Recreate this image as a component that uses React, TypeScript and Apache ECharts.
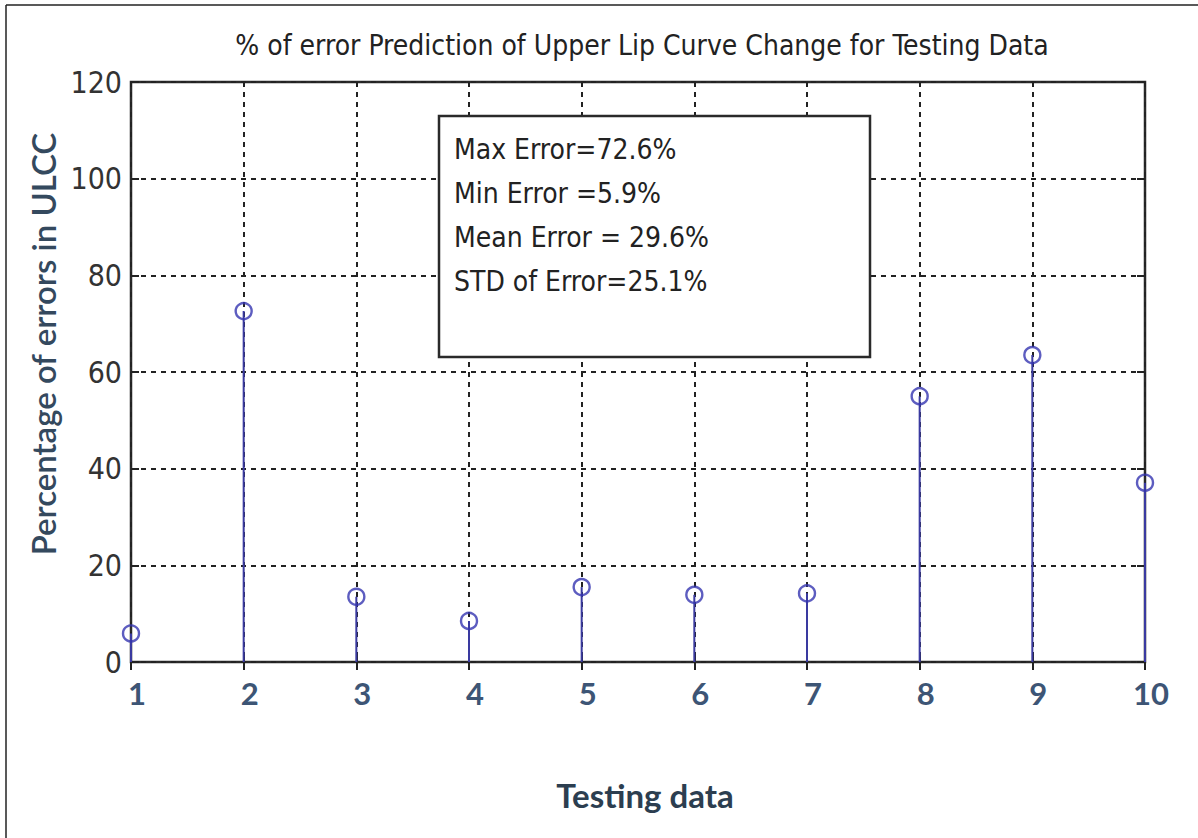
import React, { useEffect, useRef } from "react";
import * as echarts from "echarts";

const testingData = [1, 2, 3, 4, 5, 6, 7, 8, 9, 10];
const errorPercent = [5.9, 72.6, 13.5, 8.5, 15.5, 13.9, 14.2, 55.0, 63.5, 37.1];
const yTicks = [0, 20, 40, 60, 80, 100, 120];
const statLines = [
  "Max Error=72.6%",
  "Min Error =5.9%",
  "Mean Error = 29.6%",
  "STD of Error=25.1%",
];
const chartTitle = "% of error Prediction of Upper Lip Curve Change for Testing Data";
const xName = "Testing data";
const yName = "Percentage of errors in ULCC";

const NARROW = "'Liberation Sans Narrow', 'DejaVu Sans Condensed', sans-serif";
const CAL = "Lato, 'Open Sans', sans-serif";

export default function App() {
  const ref = useRef<HTMLDivElement>(null);
  useEffect(() => {
    if (!ref.current) return;
    const chart = echarts.init(ref.current, undefined, { renderer: "svg" });
    const points = testingData.map((x, i) => [x, errorPercent[i]]);
    const stemColor = "#3a3aa0";
    const option: any = {
      animation: false,
      backgroundColor: "#ffffff",
      title: {
        text: chartTitle,
        left: 637,
        textAlign: "center",
        top: 26,
        textStyle: { fontFamily: NARROW, fontSize: 28, fontWeight: "normal", color: "#222" },
      },
      grid: {
        left: 131,
        right: 53,
        top: 82,
        bottom: 176,
        show: true,
        borderColor: "#2a2a2a",
        borderWidth: 2.5,
        backgroundColor: "transparent",
      },
      xAxis: [
        {
          type: "value",
          min: 1,
          max: 10,
          interval: 1,
          axisLine: { show: false },
          axisTick: { show: true, inside: true, length: 8, lineStyle: { color: "#222", width: 2 } },
          splitLine: { show: true, lineStyle: { color: "#222", type: [5, 5], width: 2 } },
          axisLabel: {
            margin: 15,
            padding: [0, 0, 0, 12],
            fontFamily: CAL,
            fontWeight: "bold",
            fontSize: 31,
            color: "#3d5575",
          },
        },
        {
          type: "value",
          position: "top",
          min: 1,
          max: 10,
          interval: 1,
          axisLine: { show: false },
          axisTick: { show: true, inside: true, length: 8, lineStyle: { color: "#222", width: 2 } },
          splitLine: { show: false },
          axisLabel: { show: false },
        },
      ],
      yAxis: [
        {
          type: "value",
          min: 0,
          max: 120,
          interval: 20,
          axisLine: { show: false },
          axisTick: { show: true, inside: true, length: 8, lineStyle: { color: "#222", width: 2 } },
          splitLine: { show: true, lineStyle: { color: "#222", type: [5, 5], width: 2 } },
          axisLabel: {
            margin: 9,
            fontFamily: NARROW,
            fontSize: 30,
            color: "#333",
            formatter: (v: number) => (yTicks.includes(v) ? String(v) : ""),
          },
        },
        {
          type: "value",
          position: "right",
          min: 0,
          max: 120,
          interval: 20,
          axisLine: { show: false },
          axisTick: { show: true, inside: true, length: 8, lineStyle: { color: "#222", width: 2 } },
          splitLine: { show: false },
          axisLabel: { show: false },
        },
      ],
      series: [
        {
          type: "custom",
          xAxisIndex: 0,
          yAxisIndex: 0,
          data: points,
          clip: false,
          z: 3,
          renderItem: (params: any, api: any) => {
            const x = api.value(0);
            const y = api.value(1);
            const p0 = api.coord([x, 0]);
            const p1 = api.coord([x, y]);
            return {
              type: "line",
              shape: { x1: p0[0], y1: p0[1], x2: p1[0], y2: p1[1] },
              style: { stroke: stemColor, lineWidth: 2 },
            };
          },
        },
        {
          type: "scatter",
          xAxisIndex: 0,
          yAxisIndex: 0,
          data: points,
          clip: false,
          z: 4,
          symbol: "circle",
          symbolSize: 16,
          itemStyle: { color: "rgba(0,0,0,0)", borderColor: "#3535b0", borderWidth: 2.4 },
        },
      ],
      graphic: [
        { type: "line", shape: { x1: 6, y1: 5, x2: 1198, y2: 5 }, style: { stroke: "#222", lineWidth: 1.5 } },
        { type: "line", shape: { x1: 6, y1: 5, x2: 6, y2: 838 }, style: { stroke: "#222", lineWidth: 1.5 } },
        {
          type: "rect",
          z: 10,
          shape: { x: 439, y: 116, width: 431, height: 241 },
          style: { fill: "#ffffff", stroke: "#2a2a2a", lineWidth: 2.5 },
        },
        ...statLines.map((t, i) => ({
          type: "text",
          z: 11,
          left: 454,
          top: 135 + i * 44,
          style: { text: t, font: `28px ${NARROW}`, fill: "#222" },
        })),
        {
          type: "text",
          z: 11,
          x: 43,
          y: 344,
          rotation: Math.PI / 2,
          style: {
            text: yName,
            font: `600 33px ${CAL}`,
            fill: "#34495e",
            align: "center",
            verticalAlign: "middle",
          },
        },
        {
          type: "text",
          z: 11,
          x: 645,
          y: 795,
          style: {
            text: xName,
            font: `bold 33px ${CAL}`,
            fill: "#2c3e50",
            align: "center",
            verticalAlign: "middle",
          },
        },
      ],
    };
    chart.setOption(option);
    return () => chart.dispose();
  }, []);
  return (
    <div
      ref={ref}
      style={{ position: "absolute", left: 0, top: 0, width: 1198, height: 838, background: "#fff" }}
    />
  );
}
